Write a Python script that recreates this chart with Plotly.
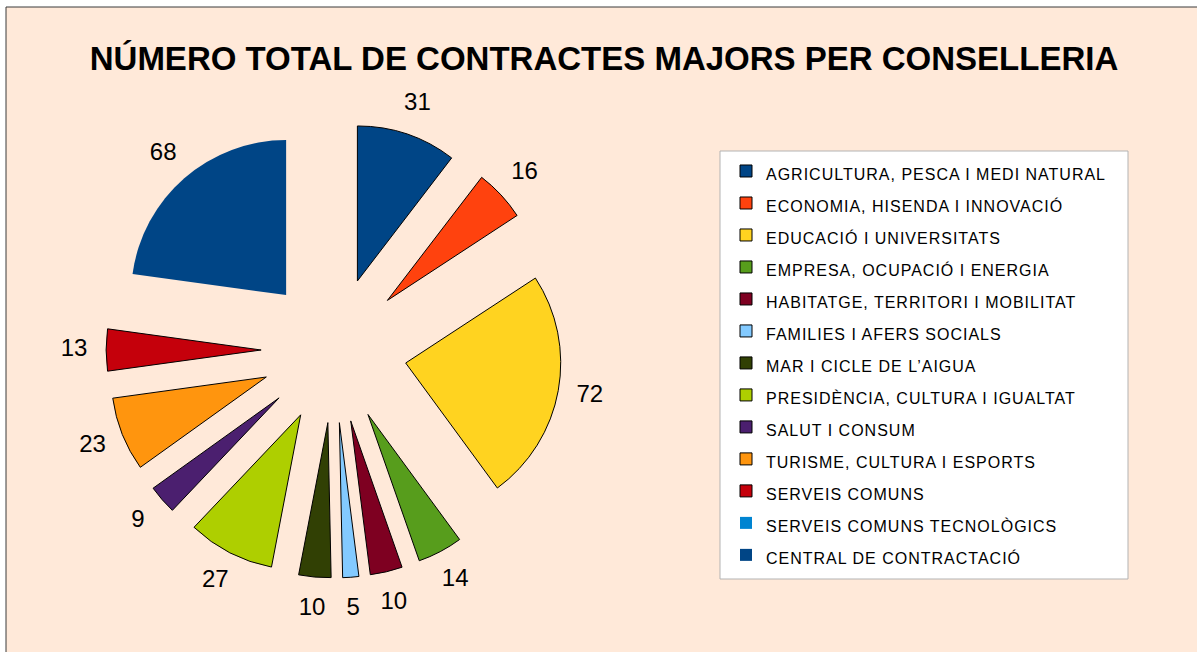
import plotly.graph_objects as go

# ---- data ----
departments = [
    "AGRICULTURA, PESCA I MEDI NATURAL",
    "ECONOMIA, HISENDA I INNOVACIÓ",
    "EDUCACIÓ I UNIVERSITATS",
    "EMPRESA, OCUPACIÓ I ENERGIA",
    "HABITATGE, TERRITORI I MOBILITAT",
    "FAMILIES I AFERS SOCIALS",
    "MAR I CICLE DE L’AIGUA",
    "PRESIDÈNCIA, CULTURA I IGUALTAT",
    "SALUT I CONSUM",
    "TURISME, CULTURA I ESPORTS",
    "SERVEIS COMUNS",
    "SERVEIS COMUNS TECNOLÒGICS",
    "CENTRAL DE CONTRACTACIÓ",
]
contracts = [31, 16, 72, 14, 10, 5, 10, 27, 9, 23, 13, 0, 68]
slice_colors = [
    "#004586", "#ff420e", "#ffd320", "#579d1c", "#7e0021", "#83caff",
    "#314004", "#aecf00", "#4b1f6f", "#ff950e", "#c5000b", "#0084d1", "#004586",
]
outline_widths = [1, 1, 1, 1, 1, 1, 1, 1, 1, 1, 1, 0, 0]

title_text = "NÚMERO TOTAL DE CONTRACTES MAJORS PER CONSELLERIA"
bg_color = "#ffe9d9"
FONT = "Liberation Sans, Arial, sans-serif"

W, H = 1197, 652

# pie geometry (pixels)
CX, CY = 334, 350          # pie centre
PIE_HALF = 227.9           # radius * (1 + pull)
PULL = 0.47
LABEL_R = 260              # label distance from centre
POLAR_HALF = 280           # radius of the invisible polar used for labels

legend_labels = [
    f'<span style="font-size:16px;letter-spacing:1px">{d}</span>' for d in departments
]

# label angles (bisector of each slice), derived from the values
total = sum(contracts)
label_theta, label_text = [], []
acc = 0
for v in contracts:
    if v:
        label_theta.append((acc + v / 2) / total * 360)
        label_text.append(str(v))
    acc += v

fig = go.Figure()
fig.add_trace(go.Pie(
    labels=legend_labels,
    values=contracts,
    textinfo="none",
    sort=False,
    direction="clockwise",
    rotation=0,
    pull=[PULL] * len(contracts),
    marker=dict(colors=slice_colors, line=dict(color="#000000", width=outline_widths)),
    domain=dict(x=[(CX - PIE_HALF) / W, (CX + PIE_HALF) / W],
                y=[1 - (CY + PIE_HALF) / H, 1 - (CY - PIE_HALF) / H]),
    hoverinfo="label+value",
))

fig.add_trace(go.Scatterpolar(
    r=[LABEL_R] * len(label_text),
    theta=label_theta,
    text=label_text,
    mode="text",
    textfont=dict(size=24, color="#000000", family=FONT),
    textposition="middle center",
    showlegend=False,
    hoverinfo="skip",
    cliponaxis=False,
))

fig.update_layout(
    width=W, height=H,
    margin=dict(l=0, r=0, t=0, b=0, autoexpand=False),
    paper_bgcolor="#ffffff",
    polar=dict(
        domain=dict(x=[(CX - POLAR_HALF) / W, (CX + POLAR_HALF) / W],
                    y=[1 - (CY + POLAR_HALF) / H, 1 - (CY - POLAR_HALF) / H]),
        bgcolor="rgba(0,0,0,0)",
        radialaxis=dict(visible=False, range=[0, POLAR_HALF]),
        angularaxis=dict(visible=False, rotation=90, direction="clockwise"),
    ),
    title=dict(
        text="<b>" + title_text + "</b>",
        x=604 / W, xref="container", xanchor="center",
        y=1 - 58 / H, yref="container", yanchor="middle",
        font=dict(size=33, color="#000000", family=FONT),
    ),
    legend=dict(
        x=726 / W, xanchor="left",
        y=1 - 150 / H, yanchor="top",
        bgcolor="rgba(0,0,0,0)",
        borderwidth=0,
        font=dict(size=22.3, color="#000000", family=FONT),
    ),
    showlegend=True,
    shapes=[
        dict(type="rect", xref="paper", yref="paper",
             x0=6 / W, x1=1.02, y0=-0.02, y1=1 - 7 / H,
             fillcolor=bg_color, line=dict(color="#3a3a3a", width=1), layer="below"),
        dict(type="rect", xref="paper", yref="paper",
             x0=720 / W, x1=1128 / W, y0=1 - 579 / H, y1=1 - 151 / H,
             fillcolor="#ffffff", line=dict(color="#b3b3b3", width=1), layer="below"),
    ],
)

fig.write_html(
    "out.html",
    config={"displayModeBar": False},
    post_script="document.body.style.margin='0';document.body.style.padding='0';",
)
